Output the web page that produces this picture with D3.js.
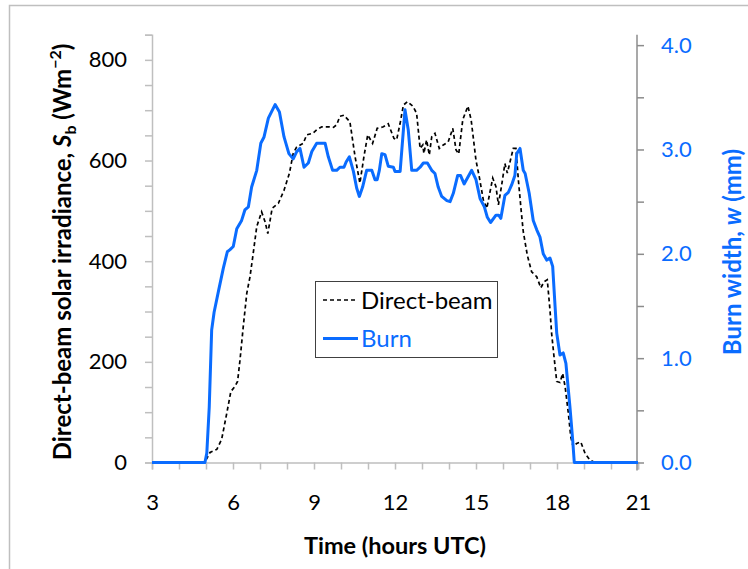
<!DOCTYPE html>
<html>
<head>
<meta charset="utf-8">
<script src="https://cdn.jsdelivr.net/npm/d3@7"></script>
<style>
  html, body { margin: 0; padding: 0; background: #fff; }
  svg { display: block; font-family: Lato, "Liberation Sans", sans-serif; }
</style>
</head>
<body>
<svg id="chart" width="748" height="569"></svg>
<script>
// ---- Data ----
const beamTime = [3, 4.96, 5.03, 5.15, 5.4, 5.58, 5.77, 5.92, 6.07, 6.17, 6.26, 6.38, 6.51, 6.63, 6.75, 6.88, 7.06, 7.19, 7.29, 7.45, 7.68, 7.89, 8.09, 8.23, 8.36, 8.6, 8.73, 8.95, 9.1, 9.29, 9.53, 9.72, 9.84, 9.96, 10.11, 10.33, 10.52, 10.7, 10.85, 10.99, 11.17, 11.34, 11.57, 11.75, 11.96, 12.06, 12.19, 12.31, 12.46, 12.66, 12.8, 12.93, 13.03, 13.07, 13.17, 13.27, 13.36, 13.48, 13.64, 13.79, 13.97, 14.14, 14.26, 14.36, 14.51, 14.7, 14.82, 15.0, 15.12, 15.27, 15.4, 15.52, 15.62, 15.74, 15.83, 15.95, 16.07, 16.16, 16.29, 16.38, 16.48, 16.57, 16.67, 16.75, 16.9, 17.06, 17.25, 17.4, 17.52, 17.64, 17.74, 17.8, 17.89, 17.99, 18.11, 18.21, 18.3, 18.42, 18.51, 18.6, 18.73, 18.88, 19.04, 19.22, 19.41, 21];
const beamValues = [0, 0, 8, 20, 26, 46, 98, 141, 151, 161, 204, 270, 336, 369, 416, 469, 498, 478, 455, 505, 515, 541, 575, 614, 627, 634, 651, 654, 661, 667, 667, 666, 671, 688, 690, 677, 608, 555, 608, 651, 634, 664, 667, 673, 644, 641, 674, 710, 717, 708, 694, 624, 631, 614, 641, 611, 647, 654, 624, 631, 637, 664, 621, 613, 681, 708, 681, 600, 568, 522, 505, 538, 565, 548, 512, 551, 594, 575, 604, 624, 624, 561, 502, 459, 412, 379, 369, 347, 359, 363, 303, 257, 210, 161, 159, 177, 151, 98, 51, 31, 38, 41, 18, 5, 0, 0];

const burnTime = [3, 4.96, 5.03, 5.12, 5.21, 5.3, 5.46, 5.64, 5.79, 5.89, 6.01, 6.14, 6.32, 6.44, 6.57, 6.69, 6.88, 7.03, 7.15, 7.31, 7.56, 7.72, 7.89, 8.07, 8.23, 8.36, 8.48, 8.63, 8.79, 8.92, 9.1, 9.41, 9.53, 9.69, 9.84, 9.96, 10.11, 10.19, 10.31, 10.46, 10.58, 10.68, 10.8, 10.95, 11.14, 11.26, 11.34, 11.42, 11.51, 11.63, 11.75, 11.94, 12.0, 12.19, 12.37, 12.49, 12.62, 12.8, 12.93, 13.05, 13.2, 13.36, 13.48, 13.6, 13.73, 13.92, 14.04, 14.16, 14.32, 14.43, 14.56, 14.84, 15.0, 15.15, 15.31, 15.42, 15.54, 15.74, 15.84, 15.92, 16.07, 16.2, 16.32, 16.44, 16.51, 16.63, 16.75, 16.82, 16.97, 17.12, 17.25, 17.37, 17.49, 17.62, 17.74, 17.84, 17.93, 17.99, 18.11, 18.23, 18.33, 18.48, 18.58, 18.64, 21];
const burnValues = [0, 0, 0.09, 0.53, 1.27, 1.44, 1.64, 1.86, 2.02, 2.04, 2.07, 2.24, 2.32, 2.42, 2.45, 2.64, 2.8, 3.06, 3.12, 3.3, 3.43, 3.36, 3.12, 2.96, 2.91, 2.98, 3.01, 2.83, 2.87, 2.98, 3.06, 3.06, 2.93, 2.8, 2.8, 2.83, 2.83, 2.88, 2.93, 2.79, 2.63, 2.55, 2.64, 2.8, 2.8, 2.71, 2.71, 2.8, 2.96, 2.95, 2.84, 2.83, 2.79, 2.79, 3.38, 3.19, 2.8, 2.8, 2.83, 2.87, 2.87, 2.8, 2.77, 2.64, 2.55, 2.51, 2.5, 2.58, 2.75, 2.75, 2.67, 2.8, 2.71, 2.53, 2.45, 2.35, 2.3, 2.37, 2.37, 2.34, 2.56, 2.59, 2.66, 2.75, 2.96, 3.01, 2.8, 2.77, 2.58, 2.32, 2.23, 2.16, 2.0, 1.94, 1.96, 1.88, 1.49, 1.24, 1.03, 1.05, 0.95, 0.53, 0.22, 0, 0];

const xTicks = d3.range(3, 22, 1);
const xLabels = [3, 6, 9, 12, 15, 18, 21];
const leftTicks = d3.range(0, 851, 50);
const leftLabels = [0, 200, 400, 600, 800];
const rightTicks = d3.range(0, 4.01, 0.5);
const rightLabels = [0, 1, 2, 3, 4];

// ---- Layout ----
const svg = d3.select("#chart");
const blue = "#0a6cff";
const plot = { left: 152, right: 638, top: 34.7, bottom: 462.5 };

// chart border
svg.append("path")
  .attr("d", `M9.5,569 L9.5,5.5 L748,5.5`)
  .attr("fill", "none").attr("stroke", "#bfbfbf").attr("stroke-width", 1.5);

const x = d3.scaleLinear().domain([3, 21]).range([plot.left, plot.right]);
const yL = d3.scaleLinear().domain([0, 850]).range([plot.bottom, plot.top]);
const yR = d3.scaleLinear().domain([0, 4.1]).range([plot.bottom, plot.top]);

// X axis
const gx = svg.append("g").attr("transform", `translate(0,${plot.bottom})`)
  .call(d3.axisBottom(x).tickValues(xTicks).tickSize(7).tickPadding(25)
    .tickFormat(d => xLabels.includes(d) ? d : ""));
gx.select(".domain").attr("stroke", "#bfbfbf").attr("stroke-width", 1.5);
gx.selectAll(".tick line").attr("stroke", "#bfbfbf").attr("stroke-width", 1.5);
gx.selectAll(".tick text").attr("font-size", 22).attr("fill", "#000").attr("font-family", "Lato");

// Left axis
const gl = svg.append("g").attr("transform", `translate(${plot.left},0)`)
  .call(d3.axisLeft(yL).tickValues(leftTicks).tickSize(7).tickPadding(18)
    .tickFormat(d => leftLabels.includes(d) ? d : ""));
gl.select(".domain").attr("stroke", "#bfbfbf").attr("stroke-width", 1.5);
gl.selectAll(".tick line").attr("stroke", "#bfbfbf").attr("stroke-width", 1.5);
gl.selectAll(".tick text").attr("font-size", 22).attr("fill", "#000").attr("font-family", "Lato");

// Right axis
const gr = svg.append("g").attr("transform", `translate(${plot.right - 1},0)`)
  .call(d3.axisRight(yR).tickValues(rightTicks).tickSize(7).tickPadding(17)
    .tickFormat(d => rightLabels.includes(d) ? d3.format(".1f")(d) : ""));
gr.select(".domain").attr("stroke", "#8c8c8c").attr("stroke-width", 1.5)
  .attr("d", `M0,${plot.top}V${plot.bottom + 8}`);
gr.selectAll(".tick line").attr("stroke", "#8c8c8c").attr("stroke-width", 1.5);
gr.selectAll(".tick text").attr("font-size", 22).attr("fill", blue).attr("font-family", "Lato");

// Lines
const beamData = beamTime.map((t, i) => [t, beamValues[i]]);
const burnData = burnTime.map((t, i) => [t, burnValues[i]]);

svg.append("path").datum(beamData)
  .attr("d", d3.line().x(d => x(d[0])).y(d => yL(d[1])))
  .attr("fill", "none").attr("stroke", "#000").attr("stroke-width", 1.7)
  .attr("stroke-dasharray", "4,3");

svg.append("path").datum(burnData)
  .attr("d", d3.line().x(d => x(d[0])).y(d => yR(d[1])))
  .attr("fill", "none").attr("stroke", blue).attr("stroke-width", 3)
  .attr("stroke-linejoin", "round");

// Axis titles
svg.append("text")
  .attr("transform", "translate(71,252) rotate(-90)")
  .attr("text-anchor", "middle").attr("font-size", 24).attr("font-weight", "bold")
  .attr("fill", "#000")
  .call(t => {
    t.append("tspan").text("Direct-beam solar irradiance, ");
    t.append("tspan").attr("font-style", "italic").text("S");
    t.append("tspan").attr("font-size", 16).attr("dy", 5).text("b");
    t.append("tspan").attr("dy", -5).text(" (Wm");
    t.append("tspan").attr("font-size", 16).attr("dy", -10).text("\u22122");
    t.append("tspan").attr("dy", 10).text(")");
  });

svg.append("text")
  .attr("transform", "translate(741,252) rotate(-90)")
  .attr("text-anchor", "middle").attr("font-size", 24).attr("font-weight", "bold")
  .attr("fill", blue)
  .call(t => {
    t.append("tspan").text("Burn width, ");
    t.append("tspan").attr("font-style", "italic").text("w");
    t.append("tspan").text(" (mm)");
  });

svg.append("text")
  .attr("x", 395).attr("y", 554)
  .attr("text-anchor", "middle").attr("font-size", 23.5).attr("font-weight", "bold")
  .attr("fill", "#000").text("Time (hours UTC)");

// Legend
const lg = svg.append("g");
lg.append("rect").attr("x", 315.5).attr("y", 281.5).attr("width", 182).attr("height", 76)
  .attr("fill", "#fff").attr("stroke", "#404040").attr("stroke-width", 1);
lg.append("line").attr("x1", 323).attr("x2", 358).attr("y1", 300).attr("y2", 300)
  .attr("stroke", "#000").attr("stroke-width", 1.7).attr("stroke-dasharray", "4,3");
lg.append("text").attr("x", 361).attr("y", 308.5).attr("font-size", 24).attr("fill", "#000")
  .text("Direct-beam");
lg.append("line").attr("x1", 323).attr("x2", 358).attr("y1", 338.5).attr("y2", 338.5)
  .attr("stroke", blue).attr("stroke-width", 3);
lg.append("text").attr("x", 361).attr("y", 347).attr("font-size", 24).attr("fill", blue)
  .text("Burn");
</script>
</body>
</html>
